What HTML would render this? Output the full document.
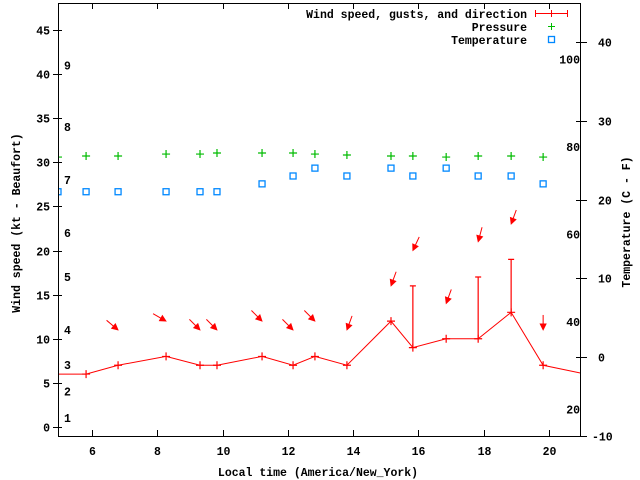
<!DOCTYPE html>
<html><head><meta charset="utf-8"><title>Wind chart</title>
<style>
html,body{margin:0;padding:0;background:#fff;}
svg{display:block;}
text{font-family:"Liberation Mono",monospace;font-weight:bold;font-size:11.5px;fill:#000;}
</style></head>
<body>
<svg id="chart" width="640" height="480" viewBox="0 0 640 480" xmlns="http://www.w3.org/2000/svg">
<rect x="0" y="0" width="640" height="480" fill="#fff"/>
<g id="g-grid"></g>
<g id="g-data"></g>
<rect x="58.5" y="3.5" width="522" height="433" fill="none" stroke="#000" stroke-width="1"/>
<g id="g-axes"></g>
<text transform="translate(20,223) rotate(-90)" text-anchor="middle">Wind speed (kt - Beaufort)</text>
<text transform="translate(630,222) rotate(-90)" text-anchor="middle">Temperature (C - F)</text>
<text x="318" y="476" text-anchor="middle">Local time (America/New_York)</text>
<g>
  <text x="527" y="18" text-anchor="end">Wind speed, gusts, and direction</text>
  <text x="527" y="31" text-anchor="end">Pressure</text>
  <text x="527" y="44" text-anchor="end">Temperature</text>
  <g stroke="#f00" stroke-width="1">
    <line x1="535" y1="13.5" x2="568" y2="13.5"/><line x1="535.5" y1="10" x2="535.5" y2="17"/><line x1="567.5" y1="10" x2="567.5" y2="17"/><line x1="551.5" y1="10" x2="551.5" y2="17"/>
  </g>
  <g stroke="#0b0" stroke-width="1">
    <line x1="548" y1="26.5" x2="555" y2="26.5"/><line x1="551.5" y1="23" x2="551.5" y2="30"/>
  </g>
  <rect x="548.5" y="36.5" width="6" height="6" fill="none" stroke="#08f" stroke-width="1.3"/>
</g>
</svg>
<script>
// ---- data ----
const windTimes = [4.96, 5.82, 6.80, 8.27, 9.31, 9.83, 11.21, 12.16, 12.83, 13.81, 15.16, 15.83, 16.85, 17.83, 18.84, 19.82, 20.98];
const windSpeed = [6, 6, 7, 8, 7, 7, 8, 7, 8, 7, 12, 9, 10, 10, 13, 7, 6.1];
const windGust  = [null, null, null, null, null, null, null, null, null, null, null, 16, null, 17, 19, null, null];
const windDir   = [null, null, 310, 300, 315, 315, 315, 315, 315, 20, 20, 25, 20, 15, 20, 0, null];
const obsTimes  = [4.96, 5.82, 6.80, 8.27, 9.31, 9.83, 11.21, 12.16, 12.83, 13.81, 15.16, 15.83, 16.85, 17.83, 18.84, 19.82];
const pressure  = [30.60, 30.72, 30.72, 30.94, 30.94, 31.06, 31.06, 31.06, 30.94, 30.83, 30.72, 30.72, 30.60, 30.72, 30.72, 30.60];
const tempC     = [21, 21, 21, 21, 21, 21, 22, 23, 24, 23, 24, 23, 24, 23, 23, 22];
const xTicks = [6, 8, 10, 12, 14, 16, 18, 20];
const yTicks = [0, 5, 10, 15, 20, 25, 30, 35, 40, 45];
const cTicks = [-10, 0, 10, 20, 30, 40];
const fTicks = [20, 40, 60, 80, 100];
const beaufortLabels = ["1","2","3","4","5","6","7","8","9"];
const beaufortKt = [1, 4, 7, 11, 17, 22, 28, 34, 41];

// ---- axes ----
const X0 = 58, X1 = 581, Y0 = 436, Y1 = 3;
const xMin = 4.96, xMax = 20.98;
function xs(t){ return X0 + (t - xMin) / (xMax - xMin) * (X1 - X0); }
function ys(k){ return 427 - k * 8.822; }
function yc(c){ return 357 - c * 7.87; }
function fToC(f){ return (f - 32) * 5 / 9; }

const NS = "http://www.w3.org/2000/svg";
function mk(tag, attrs, parent){
  const e = document.createElementNS(NS, tag);
  for (const k in attrs) e.setAttribute(k, attrs[k]);
  parent.appendChild(e); return e;
}
const gAx = document.getElementById("g-axes");
const gD = document.getElementById("g-data");

xTicks.forEach(t => {
  const x = Math.round(xs(t)) + 0.5;
  const a = mk("line", {x1:x, y1:Y0, x2:x, y2:Y0-6, stroke:"#000"}, gAx);
  
  
  const b = mk("line", {x1:x, y1:Y1, x2:x, y2:Y1+6, stroke:"#000"}, gAx);
  
  
  const l = mk("text", {x:x, y:455, "text-anchor":"middle"}, gAx);
  l.textContent = t;
  
  
});
yTicks.forEach(v => {
  const y = Math.round(ys(v)) + 0.5;
  const a = mk("line", {x1:X0-5, y1:y, x2:X0+4, y2:y, stroke:"#000"}, gAx);
  
  
  const l = mk("text", {x:50, y:y+4, "text-anchor":"end"}, gAx);
  l.textContent = v;
  
  
});
cTicks.forEach(v => {
  const y = Math.round(yc(v)) + 0.5;
  const a = mk("line", {x1:X1-5, y1:y, x2:X1+6, y2:y, stroke:"#000"}, gAx);
  
  
  const l = mk("text", {x:v < 0 ? 592 : 598, y:y+4, "text-anchor":"start"}, gAx);
  l.textContent = v;
  
  
});
fTicks.forEach(v => {
  const y = yc(fToC(v));
  const l = mk("text", {x:580, y:y+4, "text-anchor":"end"}, gAx);
  l.textContent = v;
  
  
});
beaufortLabels.forEach((s, i) => {
  const l = mk("text", {x:64, y:ys(beaufortKt[i]) + 4}, gAx);
  l.textContent = s;
  
  
});

// clip
const defs = mk("defs", {}, document.getElementById("chart"));
const cp = mk("clipPath", {id:"clip"}, defs);
mk("rect", {x:X0, y:Y1, width:X1-X0, height:Y0-Y1}, cp);
gD.setAttribute("clip-path", "url(#clip)");

// pressure
obsTimes.forEach((t, i) => {
  const x = xs(t), y = ys(pressure[i]);
  const p = mk("path", {d:`M${x-4},${y}H${x+4}M${x},${y-4}V${y+4}`, stroke:"#0b0", "stroke-width":1.2, fill:"none"}, gD);
  
  
});
// temperature
obsTimes.forEach((t, i) => {
  const x = xs(t), y = yc(tempC[i]);
  const r = mk("rect", {x:x-3, y:y-3, width:6, height:6, fill:"none", stroke:"#08f", "stroke-width":1.3}, gD);
  
  
});
// wind line
const pts = windTimes.map((t, i) => xs(t) + "," + ys(windSpeed[i])).join(" ");
const wl = mk("polyline", {points:pts, fill:"none", stroke:"#f00", "stroke-width":1}, gD);


windTimes.forEach((t, i) => {
  if (i === 0 || i === windTimes.length - 1) return;
  const x = xs(t), y = ys(windSpeed[i]);
  const m = mk("path", {d:`M${x-4},${y}H${x+4}M${x},${y-4}V${y+4}`, stroke:"#f00", "stroke-width":1.2}, gD);
  
  
  if (windGust[i] != null) {
    const yg = ys(windGust[i]);
    const g = mk("path", {d:`M${x},${y}V${yg}M${x-3},${yg}H${x+3}`, stroke:"#f00", "stroke-width":1.2, fill:"none"}, gD);
    
    
  }
  if (windDir[i] != null) {
    const top = Math.max(windSpeed[i], windGust[i] == null ? 0 : windGust[i]) + 4;
    const hx = x, hy = ys(top);
    const a = windDir[i] * Math.PI / 180;
    const dx = -Math.sin(a), dy = Math.cos(a);
    const L = 15, H = 6, W = 3;
    const tx = hx - dx * L, ty = hy - dy * L;
    const bx = hx - dx * H, by = hy - dy * H;
    const px = -dy, py = dx;
    const arr = mk("g", {}, gD);
    
    
    mk("line", {x1:tx, y1:ty, x2:bx, y2:by, stroke:"#f00", "stroke-width":1}, arr);
    mk("polygon", {points:`${hx},${hy} ${bx+px*W},${by+py*W} ${bx-px*W},${by-py*W}`, fill:"#f00", stroke:"#f00", "stroke-width":0.8}, arr);
  }
});
</script>
</body></html>
